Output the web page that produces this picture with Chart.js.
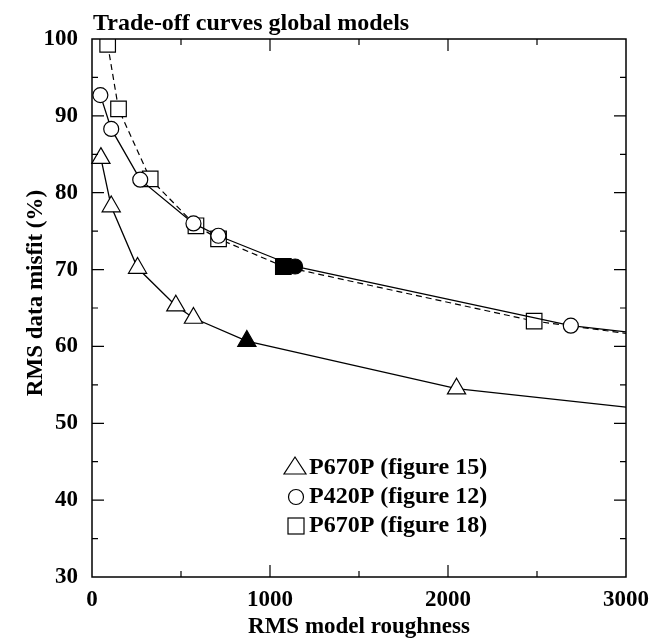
<!DOCTYPE html>
<html>
<head>
<meta charset="utf-8">
<script src="https://cdn.jsdelivr.net/npm/chart.js@4/dist/chart.umd.min.js"></script>
<style>
  html, body { margin: 0; padding: 0; background: #fff; }
  #wrap { width: 651px; height: 639px; position: relative; }
</style>
</head>
<body>
<div id="wrap"><canvas id="tradeoff"></canvas></div>
<script>
// data
const triRough = [50, 108, 256, 471, 570, 870, 2048, 3000];
const triMisfit = [84.5, 78.2, 70.2, 65.3, 63.7, 60.7, 54.5, 52.1];
const circRough = [47, 108, 271, 570, 710, 1141, 2690, 3000];
const circMisfit = [92.7, 88.3, 81.7, 76.0, 74.4, 70.4, 62.7, 61.9];
const sqRough = [88, 149, 327, 584, 711, 1075, 2484, 3000];
const sqMisfit = [99.3, 90.9, 81.8, 75.7, 74.0, 70.4, 63.3, 61.7];
const selected = 5; // the filled (chosen) model on each curve

const legendLabels = ["P670P (figure 15)", "P420P (figure 12)", "P670P (figure 18)"];
const xTicks = [0, 1000, 2000, 3000];
const yTicks = [30, 40, 50, 60, 70, 80, 90, 100];

const serif = '"Liberation Serif", "DejaVu Serif", serif';

function pts(xs, ys) {
  return xs.map((x, i) => ({ x: x, y: ys[i] }));
}
function fills(n) {
  return Array.from({ length: n }, (_, i) => (i === selected ? "#000" : "#fff"));
}
function radii(n, r) {
  return Array.from({ length: n }, (_, i) => (i === n - 1 ? 0 : r));
}

// frame with inward ticks on all four sides, titles and legend
const framePlugin = {
  id: "frame",
  afterDraw(chart) {
    const ctx = chart.ctx;
    const a = chart.chartArea;
    const xs = chart.scales.x;
    const ys = chart.scales.y;
    ctx.save();
    ctx.strokeStyle = "#000";
    ctx.lineWidth = 1.5;
    ctx.strokeRect(a.left, a.top, a.right - a.left, a.bottom - a.top);
    ctx.lineWidth = 1.2;
    ctx.beginPath();
    for (let v = 500; v < 3000; v += 500) {
      const p = xs.getPixelForValue(v);
      const len = v % 1000 === 0 ? 12 : 6;
      ctx.moveTo(p, a.bottom); ctx.lineTo(p, a.bottom - len);
      ctx.moveTo(p, a.top); ctx.lineTo(p, a.top + len);
    }
    for (let v = 35; v < 100; v += 5) {
      const p = ys.getPixelForValue(v);
      const len = v % 10 === 0 ? 12 : 6;
      ctx.moveTo(a.left, p); ctx.lineTo(a.left + len, p);
      ctx.moveTo(a.right, p); ctx.lineTo(a.right - len, p);
    }
    ctx.stroke();

    ctx.fillStyle = "#000";
    ctx.font = "bold 24px " + serif;
    ctx.textAlign = "left";
    ctx.textBaseline = "alphabetic";
    ctx.fillText("Trade-off curves global models", 93, 30);

    ctx.font = "bold 23px " + serif;
    ctx.textAlign = "center";
    ctx.textBaseline = "middle";
    ctx.fillText("RMS model roughness", (a.left + a.right) / 2, 627);
    ctx.save();
    ctx.translate(36, 293);
    ctx.rotate(-Math.PI / 2);
    ctx.fillText("RMS data misfit (%)", 0, 0);
    ctx.restore();

    // legend
    const sx = 295;
    const rows = [466, 497, 526];
    const bases = [474, 503, 532];
    ctx.lineWidth = 1.2;
    ctx.beginPath();
    ctx.moveTo(sx, rows[0] - 9); ctx.lineTo(sx + 11, rows[0] + 8); ctx.lineTo(sx - 11, rows[0] + 8); ctx.closePath();
    ctx.stroke();
    ctx.beginPath();
    ctx.arc(sx + 1, rows[1], 7.5, 0, Math.PI * 2);
    ctx.stroke();
    ctx.strokeRect(sx - 7, rows[2] - 8, 16, 16);
    ctx.font = "bold 24px " + serif;
    ctx.textAlign = "left";
    ctx.textBaseline = "alphabetic";
    legendLabels.forEach((t, i) => ctx.fillText(t, 309, bases[i]));
    ctx.restore();
  },
};

new Chart(document.getElementById("tradeoff"), {
  type: "line",
  data: {
    datasets: [
      {
        label: legendLabels[0],
        data: pts(triRough, triMisfit),
        borderColor: "#000",
        borderWidth: 1.3,
        pointStyle: "triangle",
        pointRadius: radii(triRough.length, 10.5),
        pointBackgroundColor: fills(triRough.length),
        pointBorderColor: "#000",
        pointBorderWidth: 1.2,
        tension: 0,
        clip: { left: 5, top: 0, right: 0, bottom: 0 },
      },
      {
        label: legendLabels[1],
        data: pts(circRough, circMisfit),
        borderColor: "#000",
        borderWidth: 1.3,
        pointStyle: "circle",
        pointRadius: radii(circRough.length, 7.5),
        pointBackgroundColor: fills(circRough.length),
        pointBorderColor: "#000",
        pointBorderWidth: 1.2,
        tension: 0,
        clip: { left: 5, top: 0, right: 0, bottom: 0 },
      },
      {
        label: legendLabels[2],
        data: pts(sqRough, sqMisfit),
        borderColor: "#000",
        borderWidth: 1.2,
        borderDash: [6, 4],
        pointStyle: "rect",
        pointRadius: radii(sqRough.length, 11),
        pointBackgroundColor: fills(sqRough.length),
        pointBorderColor: "#000",
        pointBorderWidth: 1.2,
        tension: 0,
        clip: { left: 5, top: 0, right: 0, bottom: 0 },
      },
    ],
  },
  options: {
    responsive: true,
    maintainAspectRatio: false,
    animation: false,
    layout: { padding: { top: 39, right: 25, left: 0, bottom: 0 } },
    plugins: {
      legend: { display: false },
      tooltip: { enabled: false },
    },
    scales: {
      x: {
        type: "linear",
        min: 0,
        max: 3000,
        afterBuildTicks: (s) => { s.ticks = xTicks.map((v) => ({ value: v })); },
        afterFit: (s) => {
          s.height = 62;
          s.paddingLeft = 0;
          s.paddingRight = 0;
        },
        grid: { display: false, drawTicks: false },
        border: { display: false },
        ticks: {
          color: "#000",
          padding: 9,
          callback: (v) => String(v),
          font: { family: serif, size: 23, weight: "bold" },
        },
      },
      y: {
        type: "linear",
        min: 30,
        max: 100,
        afterBuildTicks: (s) => { s.ticks = yTicks.map((v) => ({ value: v })); },
        afterFit: (s) => {
          s.width = 92;
          s.paddingTop = 0;
          s.paddingBottom = 0;
        },
        grid: { display: false, drawTicks: false },
        border: { display: false },
        ticks: {
          color: "#000",
          padding: 14,
          callback: (v) => String(v),
          font: { family: serif, size: 23, weight: "bold" },
        },
      },
    },
  },
  plugins: [framePlugin],
});
</script>
</body>
</html>
